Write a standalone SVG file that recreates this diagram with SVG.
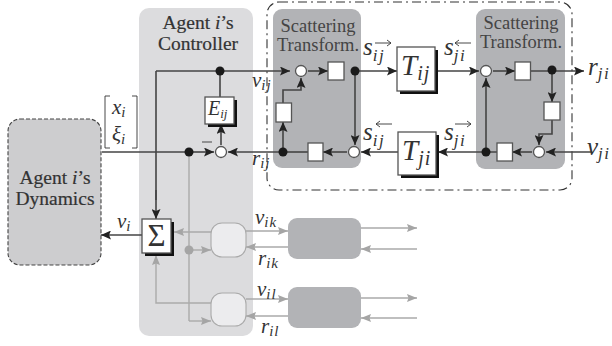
<svg xmlns="http://www.w3.org/2000/svg" width="612" height="346" viewBox="0 0 612 346">
<style>
.t{font-family:"Liberation Serif",serif;fill:#333;font-size:19.5px;text-anchor:middle;stroke:#333;stroke-width:.2}
.s{font-size:18.5px;stroke-width:0;fill:#444}
.m{font-family:"Liberation Serif",serif;font-style:italic;fill:#333}
.v{font-size:21px}
.v tspan{font-size:15px;letter-spacing:1px}
.l{font-size:25px}
.l tspan{font-size:17px;letter-spacing:1.500px}
.c{fill:none;stroke:#444;stroke-width:1.6}
.g{fill:none;stroke:#aaa;stroke-width:1.4}
.a{marker-end:url(#ah)}
.ga{marker-end:url(#gh)}
.w{fill:#fff;stroke:#555;stroke-width:1.3}
.b{fill:#1a1a1a}
.sh{fill:#111}
.acc{fill:none;stroke:#333;stroke-width:.9}
</style>
<defs>
<marker id="ah" markerUnits="userSpaceOnUse" markerWidth="11" markerHeight="9" refX="10" refY="4.5" orient="auto"><path d="M0 0L10 4.500L0 9L2 4.500Z" fill="#222"/></marker>
<marker id="gh" markerUnits="userSpaceOnUse" markerWidth="11" markerHeight="9" refX="10" refY="4" orient="auto"><path d="M0 0L10 4L0 8L1.500 4Z" fill="#a5a5a5"/></marker>
</defs>
<rect width="612" height="346" fill="#fff"/>
<g id="controller"><rect x="139" y="8" width="114" height="328" rx="10" fill="#dcdcde"/>
<text class="t" x="198" y="29">Agent <tspan font-style="italic">i</tspan>’s</text>
<text class="t" x="198" y="50">Controller</text></g>
<g id="boundary"><rect x="267" y="2" width="305" height="188" rx="12" fill="none" stroke="#333" stroke-width="1.100" stroke-dasharray="9 4 2 4"/></g>
<g id="scatter-left"><rect x="273" y="9" width="88" height="159" rx="9" fill="#b2b3b6"/>
<text class="t s" x="318" y="32">Scattering</text><text class="t s" x="318" y="51">Transform.</text></g>
<g id="scatter-right"><rect x="476" y="9" width="89" height="160" rx="9" fill="#b2b3b6"/>
<text class="t s" x="521" y="29">Scattering</text><text class="t s" x="521" y="48">Transform.</text></g>
<g id="dynamics"><rect x="8" y="119" width="93" height="146" rx="12" fill="#cdcdcf" stroke="#444" stroke-width="1.100" stroke-dasharray="4 2"/>
<text class="t" x="55" y="184">Agent <tspan font-style="italic">i</tspan>’s</text>
<text class="t" x="55" y="205">Dynamics</text></g>
<g id="connectors">
<path class="c a" d="M156 71H290"/>
<path class="c" d="M156 71V200"/><path class="c a" d="M156 190V219"/>
<path class="c" d="M220 71V97"/>
<path class="c" d="M102 152H189"/><path class="c a" d="M189 152H214"/>
<path class="c a" d="M221 145V124"/>
<path class="c a" d="M283 152H228"/>
<path class="c a" d="M283 152V122"/>
<path class="c a" d="M283 103V90H301V78"/>
<path class="c a" d="M308 71H328"/>
<path class="c a" d="M355 71V145"/>
<path class="c a" d="M355 71H397"/>
<path class="c a" d="M435 71H479"/>
<path class="c a" d="M493 71H515"/>
<path class="c a" d="M530 71H584"/>
<path class="c a" d="M552 71V102"/>
<path class="c a" d="M552 120V134H539V145"/>
<path class="c a" d="M592 152H546"/>
<path class="c a" d="M532 152H512"/>
<path class="c a" d="M497 152H438"/>
<path class="c a" d="M486 152V78"/>
<path class="c a" d="M398 152H361"/>
<path class="c a" d="M347 152H323"/>
<path class="c" d="M308 152H283"/>
<path class="c a" d="M142 235H101"/>
<path class="g" d="M189 152V321"/>
<path class="g ga" d="M189 321H211"/>
<path class="g ga" d="M189 250H211"/>
<path class="g ga" d="M211 232H174"/>
<path class="g ga" d="M211 303H156V255"/>
<path class="g ga" d="M246 231H288"/>
<path class="g ga" d="M288 247H246"/>
<path class="g ga" d="M246 299H288"/>
<path class="g ga" d="M288 316H246"/>
<path class="g ga" d="M361 228H417"/>
<path class="g ga" d="M417 249H361"/>
<path class="g ga" d="M361 298H417"/>
<path class="g ga" d="M417 318H361"/>
<circle class="b" cx="220" cy="71" r="4.500"/><circle class="b" cx="355" cy="71" r="4.500"/>
<circle class="b" cx="189" cy="152" r="4.500"/><circle class="b" cx="283" cy="152" r="4.500"/>
<circle class="b" cx="552" cy="70" r="4.500"/><circle class="b" cx="486" cy="152" r="4.500"/>
<circle cx="189" cy="250" r="4.500" fill="#a5a5a5"/>
<path d="M202 142H212" stroke="#555" stroke-width="1.100"/>
</g>
<g id="sum-ij-top"><circle class="w" cx="301" cy="71" r="5.500"/></g>
<g id="sq1"><rect class="w" x="328" y="62" width="16" height="18"/></g>
<g id="sq2"><rect class="w" x="276" y="103" width="15.500" height="19"/></g>
<g id="sq3"><rect class="w" x="308" y="143" width="15" height="18"/></g>
<g id="sum-ij-bottom"><circle class="w" cx="354" cy="152" r="5.500"/></g>
<g id="sum-e"><circle class="w" cx="221" cy="152" r="5.500"/></g>
<g id="sum-ji-top"><circle class="w" cx="486" cy="71" r="5.500"/></g>
<g id="sum-ji-bottom"><circle class="w" cx="539" cy="152" r="5.500"/></g>
<g id="sq4"><rect class="w" x="515" y="62" width="15.500" height="18"/></g>
<g id="sq5"><rect class="w" x="544" y="102" width="16" height="18"/></g>
<g id="sq6"><rect class="w" x="497" y="143" width="15.500" height="18"/></g>
<g id="E"><rect class="sh" x="208" y="100" width="29" height="27"/><rect class="w" x="205" y="97" width="29" height="27"/>
<text class="m" x="208" y="115" font-size="20">E<tspan font-size="13" dy="3">ij</tspan></text></g>
<g id="Tij"><rect class="sh" x="400" y="50" width="38" height="44"/><rect class="w" x="397" y="47" width="38" height="44"/>
<text class="m" x="401" y="75" font-size="29">T<tspan font-size="20" dy="5" letter-spacing="1">ij</tspan></text></g>
<g id="Tji"><rect class="sh" x="401" y="135" width="38" height="43"/><rect class="w" x="398" y="132" width="38" height="43"/>
<text class="m" x="402" y="160" font-size="29">T<tspan font-size="20" dy="5" letter-spacing="1">ji</tspan></text></g>
<g id="sigma"><rect class="sh" x="145" y="222" width="29" height="34"/><rect class="w" x="142" y="219" width="29" height="34"/>
<text x="156.500" y="246" font-family="Liberation Serif,serif" font-size="31" fill="#333" text-anchor="middle">Σ</text></g>
<g id="ctrl-k"><rect x="211" y="223" width="35" height="34" rx="11" fill="#ececee" stroke="#aaa" stroke-width="1.100"/></g>
<g id="ctrl-l"><rect x="211" y="293" width="35" height="33" rx="11" fill="#ececee" stroke="#aaa" stroke-width="1.100"/></g>
<g id="block-k"><rect x="288" y="218" width="73" height="41" rx="9" fill="#b2b3b6"/></g>
<g id="block-l"><rect x="288" y="287" width="73" height="41" rx="9" fill="#b2b3b6"/></g>
<g id="labels">
<path class="acc" d="M110 96H105V148H110M132 96H137V148H132"/>
<text class="m v" x="112" y="114">x<tspan dy="3">i</tspan></text>
<text class="m v" x="112" y="141">ξ<tspan dy="3">i</tspan></text>
<text class="m v" x="117" y="228">v<tspan dy="3">i</tspan></text>
<text class="m v" x="252" y="87">v<tspan dy="3">ij</tspan></text>
<text class="m v" x="252" y="165">r<tspan dy="3">ij</tspan></text>
<text class="m v" x="255" y="224">v<tspan dy="3">ik</tspan></text>
<text class="m v" x="258" y="265">r<tspan dy="3">ik</tspan></text>
<text class="m v" x="257" y="296">v<tspan dy="3">il</tspan></text>
<text class="m v" x="261" y="333">r<tspan dy="3">il</tspan></text>
<text class="m l" x="363" y="55">s<tspan dy="6">ij</tspan></text>
<text class="m l" x="363" y="140">s<tspan dy="6">ij</tspan></text>
<text class="m l" x="444" y="55">s<tspan dy="6">ji</tspan></text>
<text class="m l" x="444" y="140">s<tspan dy="6">ji</tspan></text>
<text class="m l" x="588" y="75">r<tspan dy="4">ji</tspan></text>
<text class="m l" x="587" y="155">v<tspan dy="4">ji</tspan></text>
<path class="acc" d="M375 43H391M387 40L391 43L387 46"/>
<path class="acc" d="M376 124H392M380 121L376 124L380 127"/>
<path class="acc" d="M455 43H471M459 40L455 43L459 46"/>
<path class="acc" d="M455 124H471M467 121L471 124L467 127"/>
</g>
</svg>
